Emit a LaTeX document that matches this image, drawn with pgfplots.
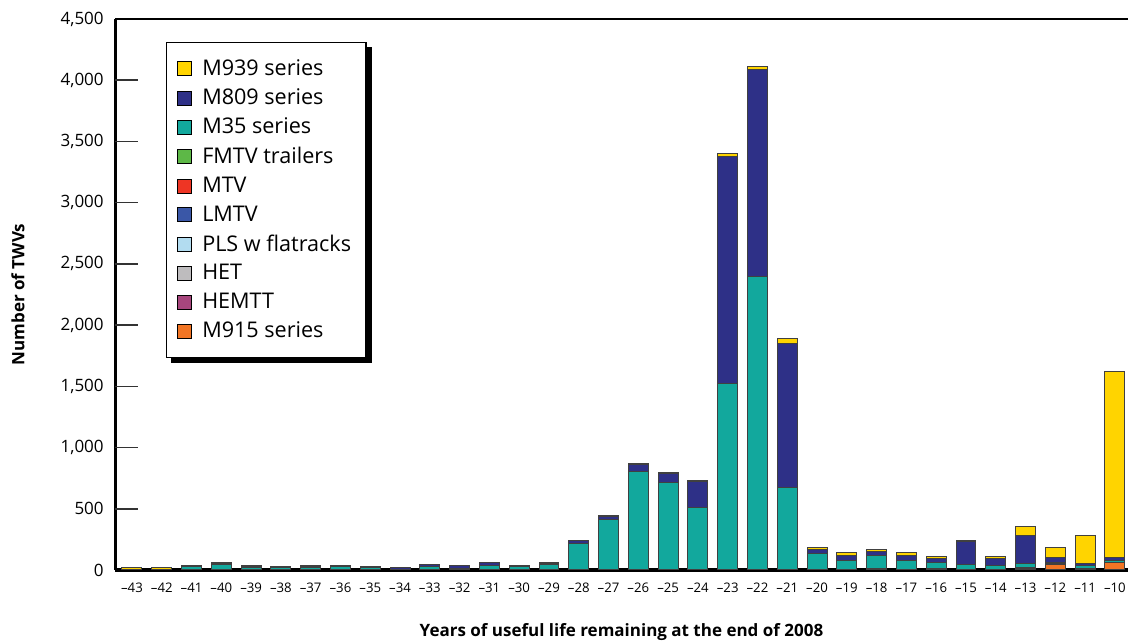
\documentclass[border=0pt]{standalone}
\usepackage{pgfplots}
\pgfplotsset{compat=1.18}
\usepackage{pgfplotstable}
\usepackage{fontspec}
\setmainfont{Open Sans}
\usetikzlibrary{backgrounds}
\definecolor{cM939}{HTML}{FFD400}
\definecolor{cM809}{HTML}{2E3087}
\definecolor{cM35}{HTML}{12A89D}
\definecolor{cFMTV}{HTML}{5DB847}
\definecolor{cMTV}{HTML}{EE3524}
\definecolor{cLMTV}{HTML}{3A57A7}
\definecolor{cPLS}{HTML}{B2DCF0}
\definecolor{cHET}{HTML}{BEBCBE}
\definecolor{cHEMTT}{HTML}{A7467D}
\definecolor{cM915}{HTML}{F27524}
\pgfplotstableread{
x   M915 HEMTT HET PLS LMTV MTV FMTV M35 M809 M939
-43 0 0 0 0 0 0 0 8 0 12
-42 0 0 0 0 0 0 0 8 0 12
-41 0 0 0 0 0 0 0 30 5 0
-40 0 0 0 0 0 0 0 45 12 8
-39 0 0 0 0 0 0 0 20 5 10
-38 0 0 0 0 0 0 0 22 3 0
-37 0 0 0 0 0 0 0 20 5 10
-36 0 0 0 0 0 0 0 30 5 0
-35 0 0 0 0 0 0 0 20 5 0
-34 0 0 0 0 0 0 0 5 18 0
-33 0 0 0 0 0 0 0 30 18 0
-32 0 0 0 0 0 0 0 15 22 0
-31 0 0 0 0 0 0 0 40 20 0
-30 0 0 0 0 0 0 0 30 5 0
-29 0 0 0 0 0 0 0 45 5 12
-28 0 0 0 0 0 0 0 218 20 3
-27 0 0 0 0 0 0 0 414 25 5
-26 0 0 0 0 0 0 0 803 60 3
-25 0 0 0 0 0 0 0 716 68 12
-24 0 0 0 0 0 0 0 512 210 12
-23 0 0 0 0 0 0 0 1520 1860 20
-22 0 0 0 0 0 0 0 2393 1695 20
-21 0 0 0 0 0 0 0 677 1175 35
-20 0 0 0 0 0 0 0 136 30 16
-19 5 0 0 0 0 0 0 74 43 17
-18 15 0 0 0 0 0 0 105 32 17
-17 5 0 0 0 0 0 0 74 43 17
-16 10 0 0 0 0 0 0 53 31 15
-15 0 0 0 0 0 0 0 46 190 3
-14 0 0 0 0 0 0 0 33 61 15
-13 12 8 0 0 0 0 0 29 232 75
-12 41 5 0 0 5 0 0 12 43 74
-11 10 5 0 0 0 0 0 20 17 229
-10 60 5 0 0 0 0 0 15 26 1512
}\datatable
\begin{document}
\begin{tikzpicture}
\begin{axis}[
  scale only axis,
  width=506.5pt, height=275.5pt,
  ybar stacked,
  bar width=0.67,
  xmin=-43.57, xmax=-9.56,
  ymin=0, ymax=4500,
  axis lines=left,
  x axis line style={-, line width=2pt},
  y axis line style={-, line width=1.5pt},
  xtick={-43,...,-10},
  xticklabel={\textendash\pgfmathparse{-\tick}\pgfmathprintnumber{\pgfmathresult}},
  xtick style={draw=none},
  ytick style={draw=none},
  xticklabel style={font=\fontsize{6.6}{7}\selectfont, yshift=-1pt},
  ytick={0,500,...,4500},
  yticklabel style={font=\fontsize{8.5}{10}\selectfont},
  /pgf/number format/.cd, 1000 sep={,}, assume math mode=true,
  /pgfplots/.cd,
  xlabel={\bfseries Years of useful life remaining at the end of 2008},
  ylabel={\bfseries Number of TWVs},
  xlabel style={font=\fontsize{8.5}{10}\selectfont, at={(axis description cs:0.5,-0.112)}, anchor=center},
  ylabel style={font=\fontsize{8.5}{10}\selectfont, at={(axis description cs:-0.0958,0.5)}, anchor=center},
  every axis plot/.append style={draw=black!75, line width=0.5pt},
  reverse legend,
  legend cell align=left,
  legend style={at={(0.05,0.958)}, anchor=north west, draw=black, line width=0.6pt,
    font=\fontsize{10.8}{12}\selectfont, row sep=1.2pt, inner xsep=5.5pt, inner ysep=6.3pt,
    fill=white, name=leg},
  legend image code/.code={\draw[#1, line width=0.5pt, draw=black] (0pt,-3.5pt) rectangle (7pt,3.5pt); \path (10pt,0pt);},
]
\addplot[fill=cM915] table[x=x,y=M915] {\datatable};
\addplot[fill=cHEMTT] table[x=x,y=HEMTT] {\datatable};
\addplot[fill=cHET] table[x=x,y=HET] {\datatable};
\addplot[fill=cPLS] table[x=x,y=PLS] {\datatable};
\addplot[fill=cLMTV] table[x=x,y=LMTV] {\datatable};
\addplot[fill=cMTV] table[x=x,y=MTV] {\datatable};
\addplot[fill=cFMTV] table[x=x,y=FMTV] {\datatable};
\addplot[fill=cM35] table[x=x,y=M35] {\datatable};
\addplot[fill=cM809] table[x=x,y=M809] {\datatable};
\addplot[fill=cM939] table[x=x,y=M939] {\datatable};
\legend{M915 series,HEMTT,HET,PLS w flatracks,LMTV,MTV,FMTV trailers,M35 series,M809 series,M939 series}
\draw[line width=0.75pt] (rel axis cs:0,1) -- (rel axis cs:1,1);
\coordinate (bl) at (rel axis cs:0,0);
\coordinate (tr) at (rel axis cs:1,1);
\end{axis}
\fill[black!80] ([yshift=30.21pt]bl) rectangle ([yshift=31.01pt,xshift=11.5pt]bl);
\fill[black!80] ([yshift=60.82pt]bl) rectangle ([yshift=61.62pt,xshift=11.5pt]bl);
\fill[black!80] ([yshift=91.43pt]bl) rectangle ([yshift=92.23pt,xshift=11.5pt]bl);
\fill[black!80] ([yshift=122.04pt]bl) rectangle ([yshift=122.84pt,xshift=11.5pt]bl);
\fill[black!80] ([yshift=152.66pt]bl) rectangle ([yshift=153.46pt,xshift=11.5pt]bl);
\fill[black!80] ([yshift=183.27pt]bl) rectangle ([yshift=184.07pt,xshift=11.5pt]bl);
\fill[black!80] ([yshift=213.88pt]bl) rectangle ([yshift=214.68pt,xshift=11.5pt]bl);
\fill[black!80] ([yshift=244.49pt]bl) rectangle ([yshift=245.29pt,xshift=11.5pt]bl);
\begin{pgfonlayer}{background}
\fill[black] ([xshift=2.5pt,yshift=-2.5pt]leg.south west) rectangle ([xshift=2.5pt,yshift=-2.5pt]leg.north east);
\end{pgfonlayer}
\pgfresetboundingbox
\path ([xshift=-57.5pt,yshift=-37pt]bl) rectangle ([yshift=9.5pt]tr);
\end{tikzpicture}
\end{document}
